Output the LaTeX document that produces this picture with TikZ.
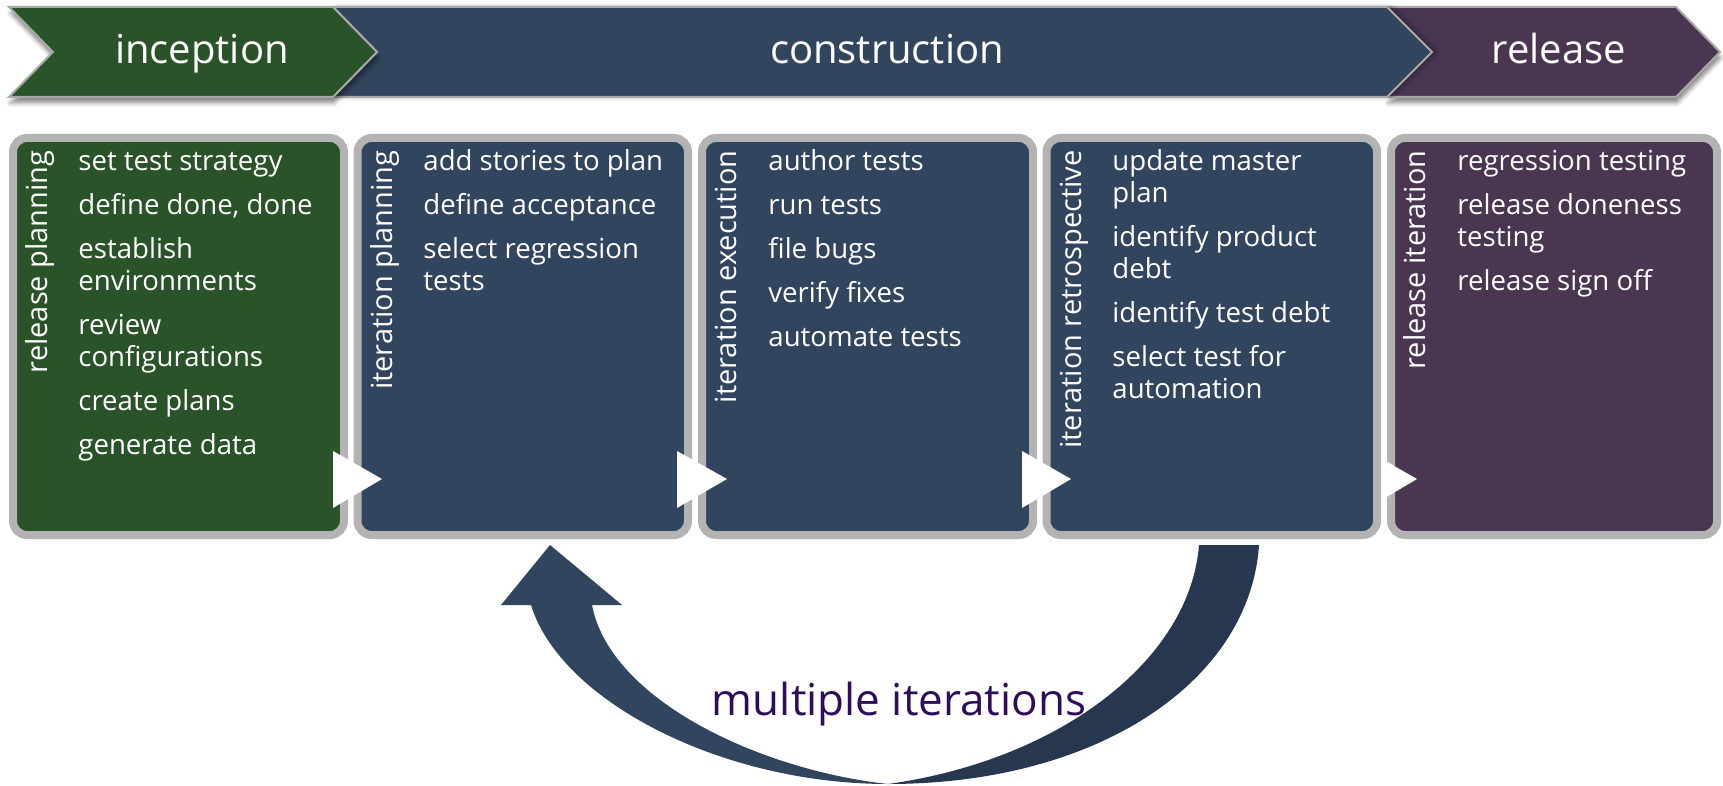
\documentclass[tikz,border=0pt]{standalone}
\usepackage{fontspec}
\setmainfont{Open Sans}
\usetikzlibrary{fit,shadows.blur}
\definecolor{cgreen}{HTML}{2A5329}
\definecolor{cnavy}{HTML}{32455F}
\definecolor{cpurple}{HTML}{4A3650}
\definecolor{cgray}{HTML}{B3B3B3}
\definecolor{cedge}{HTML}{A8A8A8}
\definecolor{cdark}{HTML}{283750}
\definecolor{ctext}{HTML}{2D0E5C}
\tikzset{
  chev/.style={draw=cedge, line width=1pt, line join=miter},
  box/.style={rectangle, draw=cgray, line width=4pt, rounded corners=7pt, inner sep=0pt},
  tri/.style={fill=white},
  vlabel/.style={rotate=90, text=white, font=\fontsize{14.5}{17}\selectfont, inner sep=0pt, anchor=base east},
  items/.style={text=white, font=\fontsize{13.8}{16}\selectfont, align=left, inner sep=0pt, anchor=north west},
  phase/.style={text=white, font=\fontsize{20}{24}\selectfont, inner sep=0pt, anchor=base},
  loopnote/.style={text=ctext, font=\fontsize{22}{26}\selectfont, inner sep=0pt, anchor=base},
  phshadow/.style={blur shadow={shadow xshift=0.5pt, shadow yshift=-3pt, shadow blur radius=2pt, shadow opacity=45}}
}
\begin{document}
\begin{tikzpicture}[x=0.5pt,y=-0.5pt]
\useasboundingbox (0,0) rectangle (1723,786);
% phase band
\draw[chev, fill=cpurple, phshadow] (1387,7) -- (1676,7) -- (1720,52) -- (1676,97) -- (1387,97) -- (1432,52) -- cycle;
\draw[chev, fill=cnavy, blur shadow={shadow xshift=2pt, shadow yshift=0pt, shadow blur radius=2pt, shadow opacity=40}] (333,7) -- (1387,7) -- (1432,52) -- (1387,97) -- (333,97) -- (377,52) -- cycle;
\draw[chev, fill=cgreen, phshadow] (9,7) -- (333,7) -- (377,52) -- (333,97) -- (9,97) -- (53,52) -- cycle;
\node[phase] (p1) at (202,64) {inception};
\node[phase] (p2) at (887,64) {construction};
\node[phase] (p3) at (1559,64) {release};
% boxes
\node[box, fill=cgreen, fit={(13,138) (344,535)}] (b1) {};
\node[box, fill=cnavy, fit={(357.5,138) (688,535)}] (b2) {};
\node[box, fill=cnavy, fit={(702,138) (1033,535)}] (b3) {};
\node[box, fill=cpurple, fit={(1391,138) (1717,535)}] (b5) {};
\fill[tri] (1368,451) -- (1417,479) -- (1368,508) -- cycle;
\node[box, fill=cnavy, fit={(1046.5,138) (1377,535)}] (b4) {};
\fill[tri] (333,451) -- (382,479) -- (333,508) -- cycle;
\fill[tri] (677,451) -- (727,479) -- (677,508) -- cycle;
\fill[tri] (1022,451) -- (1071,479) -- (1022,508) -- cycle;
% vertical labels
\node[vlabel] (l1) at (47.5,150) {release planning};
\node[vlabel] (l2) at (392,150) {iteration planning};
\node[vlabel] (l3) at (736.5,150) {iteration execution};
\node[vlabel] (l4) at (1081,150) {iteration retrospective};
\node[vlabel] (l5) at (1425.5,150) {release iteration};
% items
\node[items] (i1) at (78,148) {\strut set test strategy\\[6pt] define done, done\\[6pt] establish\\ environments\\[6pt] review\\ configurations\\[6pt] create plans\\[6pt] generate data};
\node[items] (i2) at (423,148) {\strut add stories to plan\\[6pt] define acceptance\\[6pt] select regression\\ tests};
\node[items] (i3) at (768,148) {\strut author tests\\[6pt] run tests\\[6pt] file bugs\\[6pt] verify fixes\\[6pt] automate tests};
\node[items] (i4) at (1112,148) {\strut update master\\ plan\\[6pt] identify product\\ debt\\[6pt] identify test debt\\[6pt] select test for\\ automation};
\node[items] (i5) at (1457,148) {\strut regression testing\\[6pt] release doneness\\ testing\\[6pt] release sign off};
% curved loop arrow
\fill[cnavy] (550,545) -- (622,605) -- (592,605) .. controls (610,700) and (760,770) .. (888,784) .. controls (720,784) and (560,700) .. (531,605) -- (501,605) -- cycle;
\fill[cdark] (888,784) .. controls (1060,760) and (1190,660) .. (1199,545) -- (1259,545) .. controls (1250,680) and (1100,784) .. cycle;
\node[loopnote] (m) at (899,715) {multiple iterations};
\end{tikzpicture}
\end{document}
